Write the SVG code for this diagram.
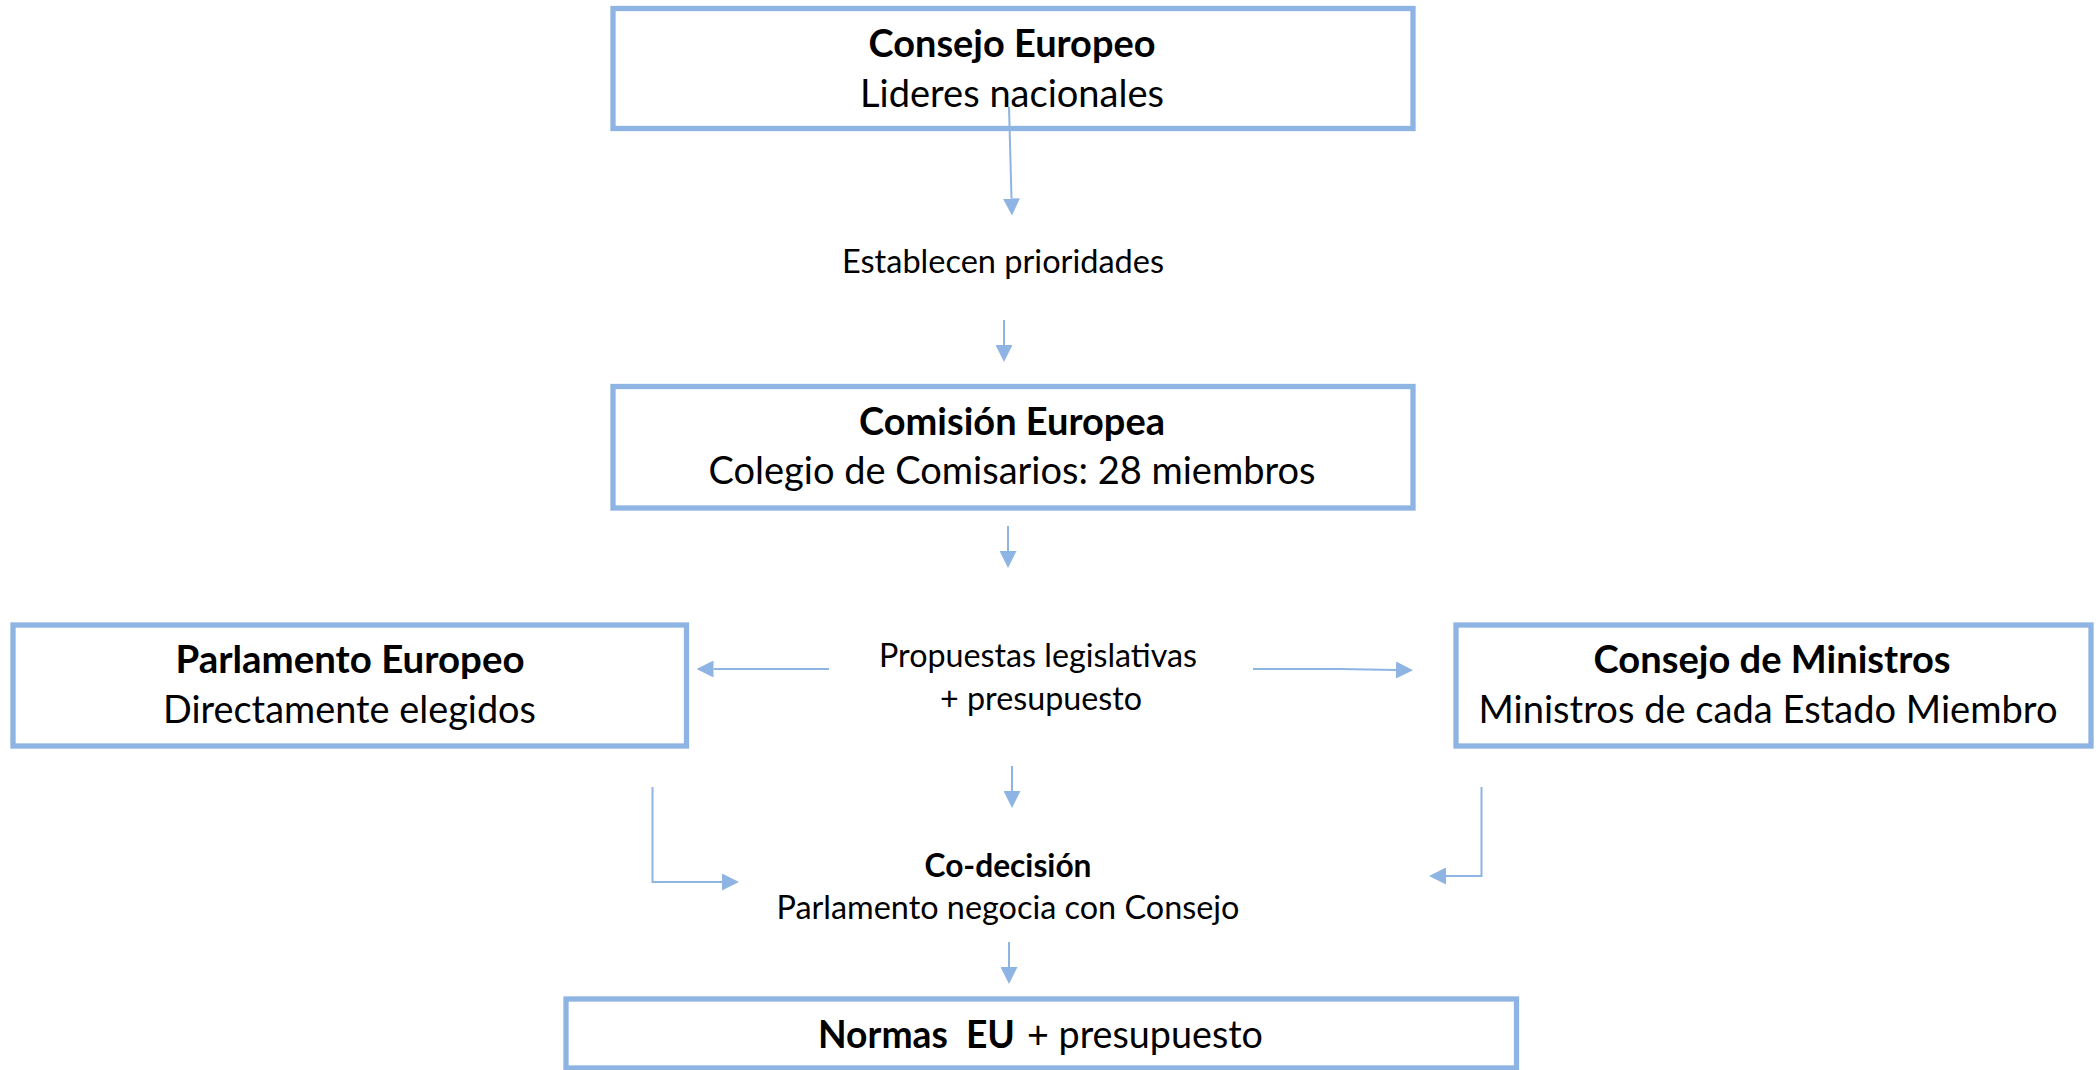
<svg xmlns="http://www.w3.org/2000/svg" width="2100" height="1070" viewBox="0 0 2100 1070">
<style>
.box{fill:#ffffff;stroke:#8EB4E3;stroke-width:5.3}
.t{font-family:Lato,"Open Sans","Liberation Sans",sans-serif;font-size:38.5px;fill:#000000}
.s{font-family:Lato,"Open Sans","Liberation Sans",sans-serif;font-size:33px;fill:#000000}
.b{font-weight:bold}
.c{text-anchor:middle}
.con{fill:none;stroke:#8EB4E3;stroke-width:2}
</style>
<defs>
<marker id="ah" markerUnits="userSpaceOnUse" markerWidth="17" markerHeight="17" viewBox="0 0 17 17" refX="0" refY="8.5" orient="auto">
<path d="M0,0 L17,8.5 L0,17 z" fill="#8EB4E3"/>
</marker>
</defs>
<rect width="2100" height="1070" fill="#ffffff"/>

<g id="consejo-europeo">
<rect class="box" x="613" y="8.5" width="800" height="120"/>
<text class="t b c" x="1012" y="56.7" textLength="287" lengthAdjust="spacingAndGlyphs">Consejo Europeo</text>
<text class="t c" x="1012" y="106.7" textLength="304" lengthAdjust="spacingAndGlyphs">Lideres nacionales</text>
</g>

<g id="establecen">
<text class="s c" x="1003" y="273" textLength="322" lengthAdjust="spacingAndGlyphs">Establecen prioridades</text>
</g>

<g id="comision-europea">
<rect class="box" x="613" y="386.5" width="800" height="121.5"/>
<text class="t b c" x="1012" y="435" textLength="306" lengthAdjust="spacingAndGlyphs">Comisión Europea</text>
<text class="t c" x="1012" y="484" textLength="607" lengthAdjust="spacingAndGlyphs">Colegio de Comisarios: 28 miembros</text>
</g>

<g id="propuestas">
<text class="s c" x="1038" y="667" textLength="318" lengthAdjust="spacingAndGlyphs">Propuestas legislativas</text>
<text class="s c" x="1041" y="710" textLength="202" lengthAdjust="spacingAndGlyphs">+ presupuesto</text>
</g>

<g id="parlamento-europeo">
<rect class="box" x="13" y="625" width="673.5" height="121"/>
<text class="t b c" x="350" y="673" textLength="349" lengthAdjust="spacingAndGlyphs">Parlamento Europeo</text>
<text class="t c" x="349.5" y="723" textLength="373" lengthAdjust="spacingAndGlyphs">Directamente elegidos</text>
</g>

<g id="consejo-ministros">
<rect class="box" x="1456" y="625" width="635" height="121"/>
<text class="t b c" x="1772" y="673" textLength="357" lengthAdjust="spacingAndGlyphs">Consejo de Ministros</text>
<text class="t c" x="1768" y="723" textLength="579" lengthAdjust="spacingAndGlyphs">Ministros de cada Estado Miembro</text>
</g>

<g id="codecision">
<text class="s b c" x="1008" y="877" textLength="167" lengthAdjust="spacingAndGlyphs">Co-decisión</text>
<text class="s c" x="1008" y="919" textLength="463" lengthAdjust="spacingAndGlyphs">Parlamento negocia con Consejo</text>
</g>

<g id="normas">
<rect class="box" x="566" y="999" width="950.5" height="69"/>
<text class="t b" x="818" y="1048" textLength="197" lengthAdjust="spacingAndGlyphs" xml:space="preserve">Normas  EU</text>
<text class="t" x="1027" y="1048" textLength="236" lengthAdjust="spacingAndGlyphs">+ presupuesto</text>
</g>

<g id="connectors">
<path class="con" d="M1009,107 L1011.5,198.5" marker-end="url(#ah)"/>
<path class="con" d="M1004,320 L1004,345" marker-end="url(#ah)"/>
<path class="con" d="M1008,526 L1008,551" marker-end="url(#ah)"/>
<path class="con" d="M829,669 L713.5,669" marker-end="url(#ah)"/>
<path class="con" d="M1253,669 L1340,669 L1396,670" marker-end="url(#ah)"/>
<path class="con" d="M1012,766 L1012,791" marker-end="url(#ah)"/>
<path class="con" d="M652.5,787 L652.5,882 L722,882" marker-end="url(#ah)"/>
<path class="con" d="M1481.5,787 L1481.5,876 L1446,876" marker-end="url(#ah)"/>
<path class="con" d="M1009,942 L1009,967" marker-end="url(#ah)"/>
</g>
</svg>
